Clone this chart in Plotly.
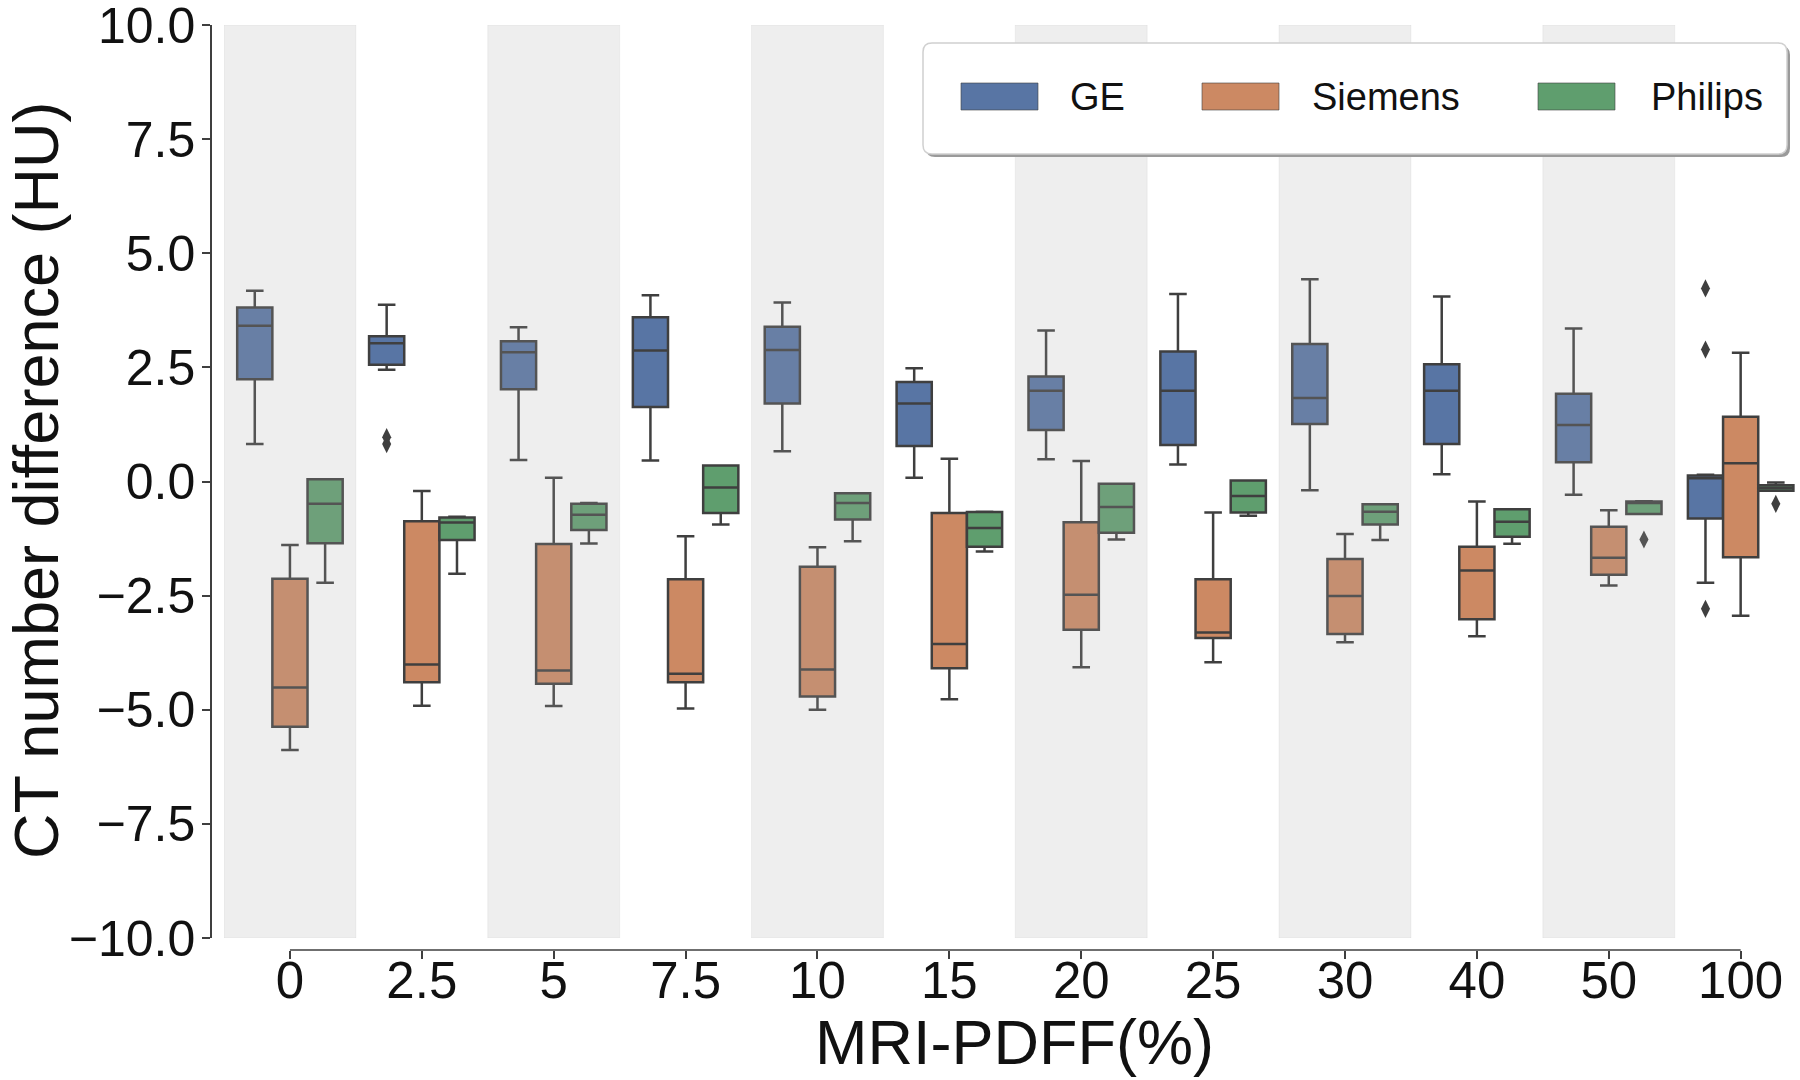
import plotly.graph_objects as go

# ---------------- data ----------------
categories = ["0", "2.5", "5", "7.5", "10", "15", "20", "25", "30", "40", "50", "100"]
series_names = ["GE", "Siemens", "Philips"]

ge_hi = [4.18, 3.87, 3.38, 4.08, 3.92, 2.48, 3.31, 4.11, 4.43, 4.05, 3.35, 0.15]
ge_q3 = [3.81, 3.18, 3.07, 3.60, 3.39, 2.18, 2.30, 2.85, 3.01, 2.57, 1.92, 0.13]
ge_med = [3.41, 3.03, 2.83, 2.87, 2.88, 1.71, 1.99, 1.99, 1.83, 1.99, 1.24, 0.07]
ge_q1 = [2.24, 2.56, 2.02, 1.63, 1.71, 0.78, 1.13, 0.80, 1.26, 0.82, 0.42, -0.81]
ge_lo = [0.82, 2.45, 0.47, 0.46, 0.66, 0.08, 0.49, 0.37, -0.19, 0.16, -0.29, -2.22]
ge_out = [[], [0.97, 0.82], [], [], [], [], [], [], [], [], [], [4.23, 2.89, -2.79]]

si_hi = [-1.39, -0.21, 0.08, -1.20, -1.44, 0.50, 0.45, -0.68, -1.15, -0.44, -0.63, 2.82]
si_q3 = [-2.13, -0.87, -1.37, -2.14, -1.87, -0.69, -0.89, -2.14, -1.70, -1.43, -0.99, 1.42]
si_med = [-4.51, -4.01, -4.14, -4.21, -4.12, -3.56, -2.48, -3.31, -2.51, -1.95, -1.67, 0.40]
si_q1 = [-5.37, -4.40, -4.43, -4.40, -4.71, -4.09, -3.25, -3.43, -3.34, -3.02, -2.04, -1.66]
si_lo = [-5.88, -4.91, -4.92, -4.97, -5.00, -4.77, -4.07, -3.96, -3.52, -3.39, -2.28, -2.94]
si_out = [[], [], [], [], [], [], [], [], [], [], [], []]

ph_hi = [0.05, -0.77, -0.47, 0.35, -0.26, -0.66, -0.05, 0.02, -0.50, -0.61, -0.43, -0.02]
ph_q3 = [0.05, -0.79, -0.49, 0.35, -0.26, -0.67, -0.05, 0.02, -0.50, -0.61, -0.44, -0.08]
ph_med = [-0.49, -0.90, -0.73, -0.13, -0.47, -1.02, -0.56, -0.32, -0.66, -0.88, -0.47, -0.14]
ph_q1 = [-1.35, -1.28, -1.06, -0.69, -0.83, -1.43, -1.12, -0.68, -0.94, -1.21, -0.71, -0.20]
ph_lo = [-2.22, -2.02, -1.36, -0.94, -1.31, -1.535, -1.27, -0.75, -1.28, -1.365, -0.71, -0.20]
ph_out = [[], [], [], [], [], [], [], [], [], [], [-1.27], [-0.49]]

shaded_categories = ["0", "5", "10", "20", "30", "50"]

y_tick_vals = [-10, -7.5, -5, -2.5, 0, 2.5, 5, 7.5, 10]
y_tick_text = ["\u221210.0", "\u22127.5", "\u22125.0", "\u22122.5", "0.0", "2.5", "5.0", "7.5", "10.0"]

# ---------------- style ----------------
colors = {"GE": "#5875A4", "Siemens": "#CC8963", "Philips": "#5F9E6E"}
edge = "#3f3f3f"
FONT = "Liberation Sans, Arial, sans-serif"
W, H = 1800, 1080
ML, MR, MT, MB = 211, 0, 25, 130
PW, PH = W - ML - MR, H - MT - MB


def px(xp):
    return (xp - ML) / PW


def py(yp):
    return (H - MB - yp) / PH


stats = {
    "GE": (ge_q1, ge_med, ge_q3, ge_lo, ge_hi, ge_out),
    "Siemens": (si_q1, si_med, si_q3, si_lo, si_hi, si_out),
    "Philips": (ph_q1, ph_med, ph_q3, ph_lo, ph_hi, ph_out),
}

fig = go.Figure()
for name in series_names:
    q1, med, q3, lo, hi, out = stats[name]
    # sample points per box: the median (hidden, inside the fences) plus the outliers
    samples = [[m] + list(o) for m, o in zip(med, out)]
    fig.add_trace(go.Box(
        name=name, x=categories, y=samples, orientation="v",
        q1=q1, median=med, q3=q3, lowerfence=lo, upperfence=hi,
        boxpoints="outliers", jitter=0, pointpos=0,
        fillcolor=colors[name],
        line=dict(color=edge, width=2.5),
        whiskerwidth=0.5,
        marker=dict(symbol="diamond-tall", size=13, color=edge,
                    line=dict(width=0)),
        showlegend=False, offsetgroup=name,
    ))

shapes = []
for c in shaded_categories:
    i = categories.index(c)
    shapes.append(dict(type="rect", xref="x", yref="y", x0=i - 0.5, x1=i + 0.5,
                       y0=-10, y1=10, layer="above",
                       fillcolor="rgba(169,169,169,0.2)",
                       line=dict(color="rgba(160,160,160,0.12)", width=1)))

# trimmed x-axis spine (from first to last category)
shapes.append(dict(type="line", xref="x", yref="paper", x0=0, x1=len(categories) - 1,
                   y0=0, y1=0, line=dict(color=edge, width=1.5), layer="above"))


def rounded_rect(x0, y0, x1, y1, r):
    p = [
        f"M {px(x0 + r)},{py(y0)}",
        f"L {px(x1 - r)},{py(y0)}",
        f"Q {px(x1)},{py(y0)} {px(x1)},{py(y0 + r)}",
        f"L {px(x1)},{py(y1 - r)}",
        f"Q {px(x1)},{py(y1)} {px(x1 - r)},{py(y1)}",
        f"L {px(x0 + r)},{py(y1)}",
        f"Q {px(x0)},{py(y1)} {px(x0)},{py(y1 - r)}",
        f"L {px(x0)},{py(y0 + r)}",
        f"Q {px(x0)},{py(y0)} {px(x0 + r)},{py(y0)}",
        "Z",
    ]
    return " ".join(p)


# legend box (manual) with shadow
LX0, LY0, LX1, LY1 = 923, 43, 1787, 154
shapes.append(dict(type="path", xref="paper", yref="paper",
                   path=rounded_rect(LX0 + 3, LY0 + 3, LX1 + 3, LY1 + 3, 9),
                   fillcolor="#9a9a9a", line=dict(width=0), layer="above"))
shapes.append(dict(type="path", xref="paper", yref="paper",
                   path=rounded_rect(LX0, LY0, LX1, LY1, 9),
                   fillcolor="white", line=dict(color="#d0d0d0", width=1.5), layer="above"))

annotations = []
legend_patch_x = [961, 1202, 1538]
legend_text_x = [1068, 1310, 1649]
for name, xp, xt in zip(series_names, legend_patch_x, legend_text_x):
    shapes.append(dict(type="rect", xref="paper", yref="paper",
                       x0=px(xp), x1=px(xp + 77), y0=py(83), y1=py(110),
                       fillcolor=colors[name], line=dict(color="#3f3f3f", width=0.6),
                       layer="above"))
    annotations.append(dict(text=name, xref="paper", yref="paper", x=px(xt), y=py(97),
                            xanchor="left", yanchor="middle", showarrow=False,
                            font=dict(size=38, color="#111111", family=FONT)))

annotations.append(dict(text="MRI-PDFF(%)", xref="paper", yref="paper",
                        x=px(1014), y=py(1042), xanchor="center", yanchor="middle",
                        showarrow=False, font=dict(size=63, color="#111111", family=FONT)))
annotations.append(dict(text="CT number difference (HU)", xref="paper", yref="paper",
                        x=px(36), y=py(481), xanchor="center", yanchor="middle",
                        textangle=-90, showarrow=False,
                        font=dict(size=63, color="#111111", family=FONT)))

fig.update_layout(
    width=W, height=H,
    margin=dict(l=ML, r=MR, t=MT, b=MB, autoexpand=False),
    paper_bgcolor="white", plot_bgcolor="white",
    boxmode="group", boxgap=0.2, boxgroupgap=0,
    shapes=shapes, annotations=annotations,
    font=dict(family=FONT, color="#111111"),
    xaxis=dict(
        type="category", categoryorder="array", categoryarray=categories,
        domain=[13 / PW, 1], range=[-0.5, 11.45],
        anchor="free", position=0, automargin=False,
        showline=False, showgrid=False, zeroline=False,
        ticks="outside", ticklen=8, tickwidth=1.5, tickcolor=edge,
        ticklabelstandoff=-22, ticklabeloverflow="allow",
        tickfont=dict(size=51, color="#111111", family=FONT),
    ),
    yaxis=dict(
        domain=[12 / PH, 1], range=[-10, 10],
        anchor="free", position=0, automargin=False,
        showline=True, linecolor=edge, linewidth=1.5,
        showgrid=False, zeroline=False,
        tickmode="array", tickvals=y_tick_vals, ticktext=y_tick_text,
        ticks="outside", ticklen=8, tickwidth=1.5, tickcolor=edge,
        ticklabelstandoff=-3, ticklabeloverflow="allow",
        tickfont=dict(size=50, color="#111111", family=FONT),
    ),
)

fig.write_html("out.html", config={"displayModeBar": False},
               post_script="document.body.style.margin='0px';")
